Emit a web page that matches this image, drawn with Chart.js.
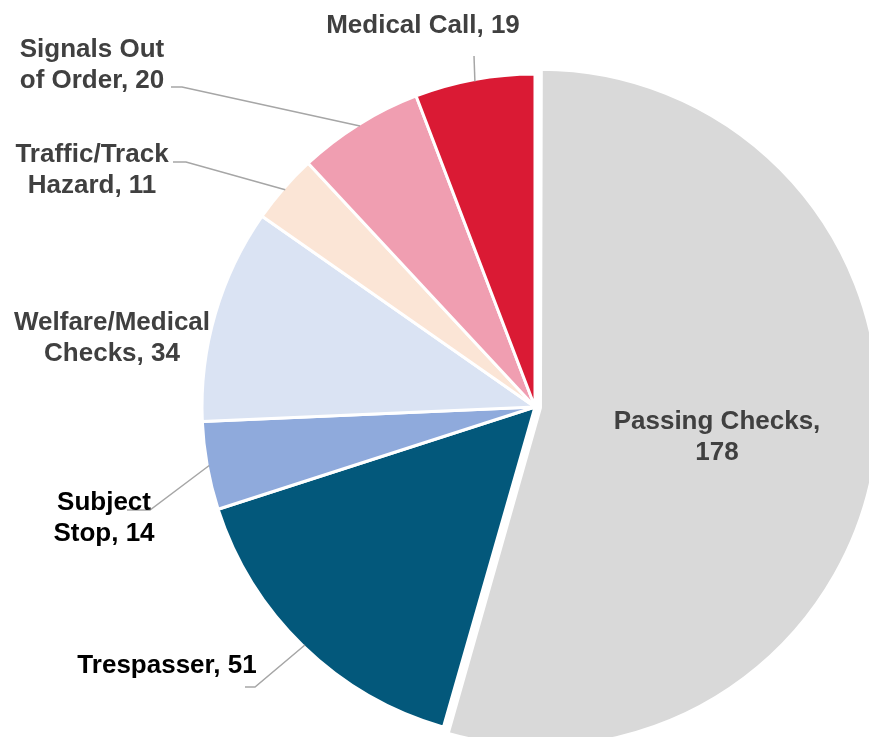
<!DOCTYPE html>
<html lang="en">
<head>
  <meta charset="UTF-8">
  <title>Incident Types</title>
  <script src="https://cdn.jsdelivr.net/npm/chart.js@4.4.0/dist/chart.umd.min.js"></script>
  <style>
    html, body { margin: 0; padding: 0; background: #ffffff; }
    #wrap { width: 869px; height: 737px; }
  </style>
</head>
<body>
  <div id="wrap"><canvas id="pieChart" width="869" height="737"></canvas></div>

  <script>
    // data, clockwise from 12 o'clock
    const categories = ['Passing Checks', 'Trespasser', 'Subject Stop', 'Welfare/Medical Checks',
                        'Traffic/Track Hazard', 'Signals Out of Order', 'Medical Call'];
    const counts = [178, 51, 14, 34, 11, 20, 19];
    const sliceColors = ['#D9D9D9', '#03587B', '#8FAADC', '#DAE3F3', '#FBE5D6', '#F09EB1', '#DA1A34'];

    // label layout: centre x, first baseline, words on line 1 (0 = single line),
    // colour, and leader line start/elbow (end point is taken from the slice)
    const labelLayout = [
      { cx: 717, y: 429, split: 2, color: '#404040' },
      { cx: 167, y: 673, split: 0, color: '#000000', leader: [[245, 687], [255, 687]] },
      { cx: 104, y: 510, split: 1, color: '#000000', leader: [[127, 510], [150, 510]] },
      { cx: 112, y: 330, split: 1, color: '#404040' },
      { cx: 92,  y: 162, split: 1, color: '#404040', leader: [[173, 162], [186, 162]] },
      { cx: 92,  y: 57,  split: 2, color: '#404040', leader: [[171, 87], [182, 87]] },
      { cx: 423, y: 33,  split: 0, color: '#404040', leader: [[474, 56]] }
    ];

    const labelPlugin = {
      id: 'sliceLabels',
      afterDatasetsDraw(chart) {
        const ctx = chart.ctx;
        const arcs = chart.getDatasetMeta(0).data;
        ctx.save();
        // leader lines first so the text sits on top
        ctx.strokeStyle = '#A6A6A6';
        ctx.lineWidth = 1.5;
        arcs.forEach((arc, i) => {
          const lay = labelLayout[i];
          if (!lay.leader) return;
          const p = arc.getProps(['x', 'y', 'startAngle', 'endAngle', 'outerRadius'], true);
          const mid = (p.startAngle + p.endAngle) / 2;
          const ex = p.x + Math.cos(mid) * (p.outerRadius - 2);
          const ey = p.y + Math.sin(mid) * (p.outerRadius - 2);
          ctx.beginPath();
          ctx.moveTo(lay.leader[0][0], lay.leader[0][1]);
          lay.leader.slice(1).forEach(pt => ctx.lineTo(pt[0], pt[1]));
          ctx.lineTo(ex, ey);
          ctx.stroke();
        });
        ctx.font = 'bold 26px "Liberation Sans", Arial, sans-serif';
        ctx.textAlign = 'center';
        ctx.textBaseline = 'alphabetic';
        arcs.forEach((arc, i) => {
          const lay = labelLayout[i];
          const words = (categories[i] + ', ' + counts[i]).split(' ');
          const lines = lay.split ? [words.slice(0, lay.split).join(' '), words.slice(lay.split).join(' ')]
                                  : [words.join(' ')];
          ctx.fillStyle = lay.color;
          lines.forEach((ln, k) => ctx.fillText(ln, lay.cx, lay.y + k * 30.5));
        });
        ctx.restore();
      }
    };

    new Chart(document.getElementById('pieChart'), {
      type: 'pie',
      data: {
        labels: categories,
        datasets: [{
          data: counts,
          backgroundColor: sliceColors,
          borderColor: '#FFFFFF',
          borderWidth: 3,
          // Chart.js moves a >180deg slice by offset/2
          offset: categories.map((c, i) => i === 0 ? 22 : 0),
          clip: false
        }]
      },
      options: {
        responsive: false,
        animation: false,
        radius: 333,
        layout: { padding: { left: 201, top: 77, right: 0, bottom: 0 } },
        plugins: {
          legend: { display: false },
          tooltip: { enabled: false }
        }
      },
      plugins: [labelPlugin]
    });
  </script>
</body>
</html>
